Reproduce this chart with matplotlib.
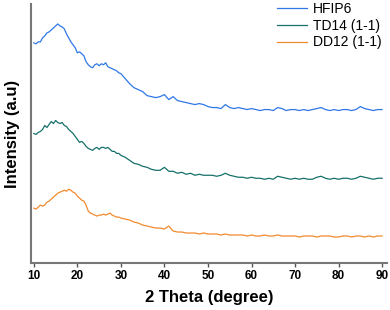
import matplotlib.pyplot as plt

plt.rcParams["font.family"] = ["Liberation Sans", "DejaVu Sans"]

# 2 theta grid (degree)
two_theta = [10, 10.5, 11, 11.5, 12, 12.5, 13, 13.5, 14, 14.5, 15, 15.5, 16, 16.5,
             17, 17.5, 18, 18.5, 19, 19.5, 20, 20.5, 21, 21.5, 22, 22.5, 23, 23.5,
             24, 24.5, 25, 25.5, 26, 26.5, 27, 27.5, 28, 28.5, 29, 29.5, 30,
             31, 32, 33, 34, 35, 36, 37, 38, 39, 40, 41, 42, 43, 44, 45, 46, 47,
             48, 49, 50, 51, 52, 53, 54, 55, 56, 57, 58, 59, 60, 61, 62, 63, 64,
             65, 66, 67, 68, 69, 70, 71, 72, 73, 74, 75, 76, 77, 78, 79, 80, 81,
             82, 83, 84, 85, 86, 87, 88, 89, 90]

# intensities (stacked, arbitrary units)
hfip6 = [221, 220, 222, 222, 226, 228, 231, 232, 234, 236, 238, 240, 238, 237,
         235, 230, 226, 222, 219, 216, 211, 212, 210, 208, 202, 199, 197, 196,
         199, 200, 198, 200, 199, 201, 197, 196, 195, 194, 193, 191, 190,
         185, 180, 176, 174, 172, 168, 167, 166, 167, 169, 164, 167, 163, 162,
         161, 160, 159, 160, 159, 157, 156, 156, 155, 159, 156, 155, 156, 155,
         154, 155, 154, 153, 154, 154, 153, 156, 155, 153, 154, 154, 153, 154,
         153, 154, 155, 156, 154, 153, 154, 153, 154, 154, 153, 154, 157, 155,
         154, 153, 154, 154]

td14 = [130, 129, 131, 132, 134, 138, 136, 139, 142, 140, 143, 141, 140, 141,
        138, 137, 134, 132, 130, 127, 124, 121, 122, 120, 117, 115, 114, 113,
        115, 116, 114, 116, 116, 115, 116, 114, 112, 112, 110, 110, 108,
        106, 103, 100, 99, 97, 96, 94, 93, 93, 96, 92, 92, 90, 91, 89, 90, 88,
        89, 88, 88, 88, 87, 88, 90, 88, 87, 86, 86, 85, 86, 85, 85, 84, 85,
        84, 87, 86, 85, 84, 85, 84, 85, 84, 84, 86, 87, 85, 84, 85, 84, 85,
        85, 84, 85, 87, 86, 85, 84, 85, 85]

dd12 = [55, 54, 56, 58, 57, 58, 61, 62, 64, 66, 68, 70, 71, 72,
        73, 72, 74, 73, 71, 70, 67, 65, 63, 62, 58, 52, 50, 49,
        48, 47, 48, 48, 49, 48, 49, 50, 48, 47, 46, 46, 45,
        44, 43, 41, 40, 38, 37, 36, 35, 35, 34, 37, 32, 31, 31, 30, 30, 30,
        29, 30, 29, 29, 29, 28, 29, 28, 28, 28, 28, 27, 28, 27, 27, 28, 27,
        27, 28, 27, 27, 27, 27, 26, 27, 27, 27, 26, 27, 27, 27, 26, 26, 27,
        27, 26, 27, 27, 26, 27, 26, 27, 27]

fig = plt.figure(figsize=(3.9, 3.1), dpi=100)
ax = fig.add_axes([0.079, 0.152, 0.913, 0.835])

ax.plot(two_theta, hfip6, color="#2f78e6", lw=0.9, label="HFIP6")
ax.plot(two_theta, td14, color="#16706b", lw=0.9, label="TD14 (1-1)")
ax.plot(two_theta, dd12, color="#f28a2e", lw=0.9, label="DD12 (1-1)")

ax.set_xlim(9.3, 91.1)
ax.set_ylim(0, 260)
ax.set_xticks(range(10, 91, 10))
ax.set_yticks([])
ax.tick_params(axis="x", length=3, width=1, color="#555555", labelsize=8.5, pad=2)
for lbl in ax.get_xticklabels():
    lbl.set_fontweight("bold")

for side in ["top", "right"]:
    ax.spines[side].set_visible(False)
for side in ["left", "bottom"]:
    ax.spines[side].set_color("#777777")
    ax.spines[side].set_linewidth(1.5)

ax.set_xlabel("2 Theta (degree)", fontsize=12, fontweight="bold", labelpad=6)
ax.set_ylabel("Intensity (a.u)", fontsize=12, fontweight="bold", labelpad=8)

ax.legend(loc="upper right", frameon=False, fontsize=10, handlelength=2.2,
          borderaxespad=0.0, labelspacing=0.2, handletextpad=0.4,
          bbox_to_anchor=(1.0, 1.03))

fig.savefig("out.png", dpi=100)
